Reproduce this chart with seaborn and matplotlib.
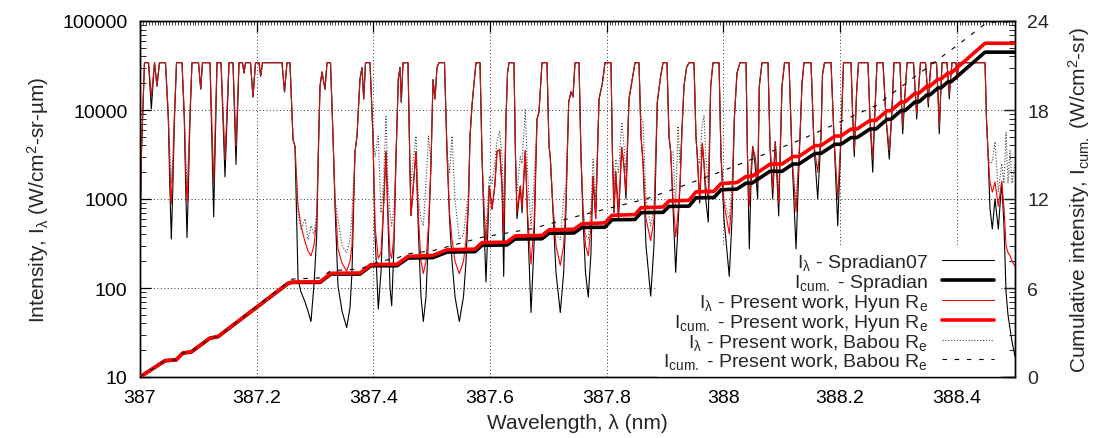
import numpy as np
import pandas as pd
import matplotlib
matplotlib.use("Agg")
import matplotlib.pyplot as plt
import seaborn as sns
from matplotlib.lines import Line2D
from matplotlib.ticker import FixedLocator, LogLocator, NullFormatter, FuncFormatter, MultipleLocator

# ---------------- data ----------------
# spectral intensity (W/cm2-sr-um) vs wavelength (nm)
wl_spec = [
    387.0000, 387.0026, 387.0077, 387.0146, 387.0194, 387.0249, 387.0291, 387.0334,
    387.0437, 387.0485, 387.0514, 387.0537, 387.0561, 387.0591, 387.0626,
    387.0720, 387.0759, 387.0785, 387.0806, 387.0828, 387.0857, 387.0891,
    387.1003, 387.1041, 387.1071, 387.1200, 387.1263, 387.1320, 387.1389, 387.1457, 387.1526, 387.1594, 387.1646, 387.1697,
    387.1757, 387.1783, 387.1809, 387.1894, 387.1937, 387.1980, 387.2040, 387.2069, 387.2100, 387.2434, 387.2477, 387.2520, 387.2571,
    387.2623, 387.2657, 387.2709, 387.2760, 387.2829, 387.2880, 387.2931, 387.2983, 387.3029, 387.3060, 387.3086, 387.3120, 387.3171, 387.3206, 387.3266,
    387.3309, 387.3343, 387.3394, 387.3463, 387.3543, 387.3600, 387.3634, 387.3686, 387.3720, 387.3771, 387.3806, 387.3835, 387.3866, 387.3943,
    387.3994, 387.4029, 387.4085, 387.4131, 387.4174, 387.4217, 387.4251, 387.4286, 387.4315, 387.4354, 387.4389, 387.4428, 387.4457, 387.4479, 387.4509, 387.4594,
    387.4629, 387.4646, 387.4689, 387.4731, 387.4774, 387.4817, 387.4857, 387.4903, 387.4946, 387.4989, 387.5023, 387.5057, 387.5091, 387.5126, 387.5220,
    387.5263, 387.5306, 387.5349, 387.5400, 387.5474, 387.5546, 387.5589, 387.5631, 387.5657, 387.5691, 387.5726, 387.5760, 387.5829,
    387.5863, 387.5897, 387.5931, 387.5966, 387.5988, 387.6034, 387.6081, 387.6120, 387.6166, 387.6206, 387.6235, 387.6274, 387.6300, 387.6326, 387.6411,
    387.6437, 387.6463, 387.6519, 387.6549, 387.6605, 387.6643, 387.6703, 387.6754, 387.6806, 387.6840, 387.6891, 387.6977,
    387.7011, 387.7034, 387.7080, 387.7131, 387.7205, 387.7263, 387.7303, 387.7349, 387.7389, 387.7423, 387.7457, 387.7526,
    387.7560, 387.7594, 387.7637, 387.7685, 387.7731, 387.7766, 387.7812, 387.7869, 387.7925, 387.7971, 387.8074,
    387.8100, 387.8126, 387.8155, 387.8203, 387.8258, 387.8297, 387.8331, 387.8383, 387.8439, 387.8486, 387.8554,
    387.8589, 387.8623, 387.8674, 387.8755, 387.8811, 387.8868, 387.8926, 387.8966, 387.9034,
    387.9069, 387.9098, 387.9137, 387.9183, 387.9223, 387.9257, 387.9291, 387.9326, 387.9369, 387.9411, 387.9497,
    387.9531, 387.9554, 387.9595, 387.9639, 387.9669, 387.9698, 387.9742, 387.9783, 387.9823, 387.9926,
    387.9960, 388.0011, 388.0102, 388.0149, 388.0188, 388.0234, 388.0286, 388.0389,
    388.0414, 388.0445, 388.0474, 388.0503, 388.0543, 388.0589, 388.0617, 388.0663, 388.0766,
    388.0800, 388.0846, 388.0891, 388.0949, 388.1006, 388.1049, 388.1126,
    388.1177, 388.1246, 388.1314, 388.1349, 388.1383, 388.1503,
    388.1554, 388.1618, 388.1674, 388.1700, 388.1734, 388.1846,
    388.1897, 388.1961, 388.2017, 388.2060, 388.2189,
    388.2214, 388.2245, 388.2283, 388.2317, 388.2480,
    388.2514, 388.2561, 388.2600, 388.2634, 388.2737,
    388.2789, 388.2845, 388.2891, 388.2926, 388.3029,
    388.3046, 388.3075, 388.3114, 388.3149, 388.3260,
    388.3286, 388.3315, 388.3354, 388.3380, 388.3466,
    388.3491, 388.3514, 388.3534, 388.3560, 388.3654,
    388.3680, 388.3702, 388.3726, 388.3749, 388.3834,
    388.3855, 388.3874, 388.3894, 388.3920, 388.3989, 388.4011, 388.4031, 388.4486,
    388.4511, 388.4542, 388.4571, 388.4611, 388.4657, 388.4714, 388.4772, 388.4811, 388.4846, 388.4880, 388.4914, 388.4949, 388.5000,
]

I_spradian = [
    250, 3400, 34000, 34000, 10300, 34000, 18600, 34000,
    34000, 7900, 1200, 355, 1200, 7900, 34000,
    34000, 7900, 1200, 370, 1200, 7900, 34000,
    34000, 17200, 34000, 34000, 630, 34000, 34000, 1770, 34000, 34000, 2450, 34000,
    34000, 26000, 34000, 34000, 14000, 34000, 34000, 24000, 34000, 34000, 16000, 34000, 34000,
    4700, 3900, 126, 90, 70, 55, 42, 110, 380, 4000, 18600, 26700, 17200, 34000, 34000,
    5000, 835, 106, 55, 36, 60, 150, 3400, 5100, 22300, 30000, 13300, 34000, 34000,
    5000, 400, 58, 150, 800, 3400, 600, 100, 63, 300, 3000, 22300, 30000, 12300, 34000, 34000,
    2000, 650, 1500, 3400, 400, 80, 42, 80, 400, 2500, 22000, 13300, 30000, 34000, 34000,
    3400, 600, 200, 80, 42, 80, 200, 925, 5000, 11100, 20000, 34000, 34000,
    3000, 500, 117, 500, 1400, 770, 1370, 3400, 3600, 1400, 135, 7900, 26000, 34000, 34000,
    3000, 600, 1400, 700, 3500, 600, 53, 300, 7900, 9500, 34000, 34000,
    4000, 2900, 700, 150, 53, 150, 800, 12300, 16000, 14000, 34000, 34000,
    3000, 600, 150, 79, 250, 1800, 600, 13300, 19600, 34000, 34000,
    3000, 700, 2050, 600, 3800, 2350, 1000, 13300, 22300, 34000, 34000,
    5000, 2600, 300, 81, 300, 12300, 24100, 34000, 34000,
    5000, 3400, 800, 150, 500, 1400, 6000, 18600, 30000, 34000, 34000,
    5000, 3000, 900, 4200, 2500, 1000, 550, 18600, 34000, 34000,
    3000, 600, 135, 600, 7900, 26000, 34000, 34000,
    3000, 275, 1500, 3900, 2500, 1000, 18600, 34000, 34000,
    4000, 1000, 4400, 645, 18600, 34000, 34000,
    3000, 275, 5000, 20000, 34000, 34000,
    4000, 1000, 5000, 25000, 34000, 34000,
    5000, 500, 5000, 34000, 34000,
    10000, 3000, 15000, 34000, 34000,
    8000, 2000, 10000, 34000, 34000,
    8000, 2800, 10000, 34000, 34000,
    15000, 5400, 15000, 34000, 34000,
    18000, 7900, 20000, 34000, 34000,
    20000, 10800, 20000, 34000, 34000,
    15000, 5400, 15000, 34000, 34000,
    22000, 13300, 22000, 34000, 34000, 22000, 34000, 34000,
    8000, 2800, 780, 460, 1000, 460, 1560, 500, 91, 50, 35, 25, 17,
]

I_hyun = [
    600, 4000, 34000, 34000, 14000, 34000, 18600, 34000,
    34000, 9000, 2000, 880, 2000, 9000, 34000,
    34000, 9000, 2000, 925, 2000, 9000, 34000,
    34000, 17200, 34000, 34000, 1400, 34000, 34000, 2800, 34000, 34000, 3900, 34000,
    34000, 26000, 34000, 34000, 14000, 34000, 34000, 24000, 34000, 34000, 16000, 34000, 34000,
    4700, 3900, 835, 500, 330, 260, 230, 300, 600, 4000, 18600, 26700, 17200, 34000, 34000,
    5000, 1000, 275, 190, 155, 200, 300, 3400, 5100, 22300, 30000, 13300, 34000, 34000,
    5000, 500, 215, 250, 800, 3400, 700, 250, 215, 400, 3000, 22300, 30000, 12300, 34000, 34000,
    2000, 650, 1500, 3400, 600, 200, 145, 200, 500, 2500, 22000, 13300, 30000, 34000, 34000,
    3400, 700, 350, 200, 145, 200, 350, 925, 5000, 11100, 20000, 34000, 34000,
    3000, 800, 300, 700, 1400, 770, 1370, 3400, 3600, 1400, 420, 7900, 26000, 34000, 34000,
    3000, 715, 1400, 800, 3500, 700, 185, 500, 7900, 9500, 34000, 34000,
    4000, 2900, 800, 300, 180, 300, 1000, 12300, 16000, 14000, 34000, 34000,
    3000, 800, 300, 230, 500, 1800, 600, 13300, 19600, 34000, 34000,
    3000, 715, 2050, 715, 3800, 2350, 1200, 13300, 22300, 34000, 34000,
    5000, 2600, 600, 340, 600, 12300, 24100, 34000, 34000,
    5000, 3400, 1000, 375, 700, 1400, 6000, 18600, 30000, 34000, 34000,
    5000, 3000, 1000, 4200, 2500, 1400, 1000, 18600, 34000, 34000,
    3000, 900, 405, 1000, 7900, 26000, 34000, 34000,
    3000, 835, 2000, 3900, 3000, 1500, 18600, 34000, 34000,
    4000, 1300, 4400, 900, 18600, 34000, 34000,
    3000, 715, 5000, 20000, 34000, 34000,
    4000, 2000, 5000, 25000, 34000, 34000,
    5000, 1000, 5000, 34000, 34000,
    10000, 3500, 15000, 34000, 34000,
    8000, 2800, 10000, 34000, 34000,
    8000, 3500, 10000, 34000, 34000,
    15000, 6500, 15000, 34000, 34000,
    18000, 9000, 20000, 34000, 34000,
    20000, 12000, 20000, 34000, 34000,
    15000, 6500, 15000, 34000, 34000,
    22000, 15000, 22000, 34000, 34000, 22000, 34000, 34000,
    8000, 2800, 1550, 1200, 1550, 830, 1560, 800, 300, 250, 230, 200, 175,
]

I_babou = [
    600, 4000, 34000, 34000, 14000, 34000, 18600, 34000,
    34000, 9000, 3000, 1500, 3000, 9000, 34000,
    34000, 9000, 3000, 1500, 3000, 9000, 34000,
    34000, 17200, 34000, 34000, 1400, 34000, 34000, 2800, 34000, 34000, 3900, 34000,
    34000, 26000, 34000, 34000, 14000, 34000, 34000, 24000, 34000, 34000, 16000, 34000, 34000,
    4700, 3900, 700, 450, 600, 350, 500, 400, 700, 4000, 18600, 26700, 17200, 34000, 34000,
    5000, 1000, 600, 300, 250, 350, 700, 3400, 5100, 22300, 30000, 13300, 34000, 34000,
    5000, 3000, 5100, 700, 1500, 8500, 1500, 700, 500, 800, 3000, 22300, 30000, 12300, 34000, 34000,
    2000, 1500, 3000, 5100, 1000, 600, 500, 1500, 5100, 2500, 22000, 13300, 30000, 34000, 34000,
    3400, 2000, 5100, 1000, 350, 400, 700, 1200, 5000, 11100, 20000, 34000, 34000,
    3000, 800, 400, 1000, 1800, 1500, 2500, 4500, 5800, 3000, 800, 7900, 26000, 34000, 34000,
    3000, 1200, 3000, 2500, 10300, 2000, 500, 1500, 7900, 9500, 34000, 34000,
    4000, 2900, 800, 400, 350, 1000, 1500, 12300, 16000, 14000, 34000, 34000,
    3000, 800, 400, 350, 800, 2800, 1000, 13300, 19600, 34000, 34000,
    3000, 1500, 2800, 2000, 7300, 4000, 2000, 13300, 22300, 34000, 34000,
    8000, 7300, 1000, 500, 800, 12300, 24100, 34000, 34000,
    5000, 3400, 3400, 800, 6600, 2500, 6000, 18600, 30000, 34000, 34000,
    5000, 3000, 2500, 7000, 8600, 3000, 1500, 18600, 34000, 34000,
    3000, 1000, 600, 1500, 7900, 26000, 34000, 34000,
    3000, 1200, 2000, 3900, 3000, 2000, 18600, 34000, 34000,
    4000, 1500, 4400, 1200, 18600, 34000, 34000,
    3000, 900, 5000, 20000, 34000, 34000,
    4000, 2000, 5000, 25000, 34000, 34000,
    5000, 1000, 5000, 34000, 34000,
    10000, 3500, 15000, 34000, 34000,
    8000, 2800, 10000, 34000, 34000,
    8000, 3500, 10000, 34000, 34000,
    15000, 6500, 15000, 34000, 34000,
    18000, 9000, 20000, 34000, 34000,
    20000, 12000, 20000, 34000, 34000,
    15000, 6500, 15000, 34000, 34000,
    22000, 15000, 22000, 34000, 34000, 22000, 34000, 34000,
    8000, 3000, 2500, 2600, 4400, 1200, 2500, 1500, 5600, 1500, 3500, 1500, 2500,
]

# cumulative intensity (W/cm2-sr), right axis
wl_cum = [
    387.0000, 387.0429, 387.0617, 387.0737, 387.0874, 387.1200, 387.1337, 387.2537, 387.2606, 387.3086,
    387.3274, 387.3771, 387.3960, 387.4406, 387.4594, 387.5023, 387.5263, 387.5743, 387.5863, 387.6291,
    387.6429, 387.6891, 387.7011, 387.7440, 387.7577, 387.7971, 387.8091, 387.8486, 387.8589, 387.8966,
    387.9069, 387.9411, 387.9531, 387.9840, 387.9960, 388.0234, 388.0389, 388.0491, 388.0800, 388.1006,
    388.1194, 388.1297, 388.1571, 388.1674, 388.1914, 388.2017, 388.2189, 388.2291, 388.2514, 388.2617,
    388.2806, 388.2874, 388.3046, 388.3114, 388.3286, 388.3354, 388.3491, 388.3543, 388.3680, 388.3731,
    388.3851, 388.3903, 388.4486, 388.5000,
]
cum_spradian = [
    0, 1.10, 1.15, 1.62, 1.68, 2.62, 2.72, 6.30, 6.38, 6.38,
    6.94, 6.94, 7.50, 7.50, 8.02, 8.05, 8.42, 8.45, 8.88, 8.90,
    9.30, 9.32, 9.69, 9.71, 10.08, 10.10, 10.60, 10.62, 11.08, 11.10,
    11.50, 11.52, 12.08, 12.10, 12.62, 12.67, 13.07, 13.07, 13.87, 13.87,
    14.36, 14.36, 15.07, 15.07, 15.69, 15.69, 16.14, 16.14, 16.72, 16.72,
    17.37, 17.37, 17.96, 17.96, 18.55, 18.55, 19.02, 19.02, 19.49, 19.49,
    19.90, 19.90, 21.90, 21.90,
]
cum_hyun = [
    0, 1.10, 1.15, 1.62, 1.68, 2.62, 2.72, 6.32, 6.40, 6.42,
    6.99, 7.01, 7.58, 7.60, 8.13, 8.20, 8.58, 8.62, 9.06, 9.09,
    9.51, 9.54, 9.92, 9.96, 10.33, 10.39, 10.90, 10.95, 11.41, 11.46,
    11.87, 11.91, 12.48, 12.52, 13.04, 13.11, 13.52, 13.53, 14.35, 14.36,
    14.86, 14.87, 15.60, 15.61, 16.24, 16.25, 16.71, 16.72, 17.30, 17.30,
    17.95, 17.95, 18.54, 18.54, 19.13, 19.13, 19.61, 19.61, 20.08, 20.08,
    20.49, 20.49, 22.50, 22.50,
]
wl_cum_babou = [
    387.0000, 387.0429, 387.0617, 387.0737, 387.0874, 387.1200, 387.1337, 387.2537, 387.2606, 387.3086,
    387.3274, 387.3771, 387.4143, 387.4371, 387.4572, 387.4766, 387.5006, 387.5863, 387.6720, 387.7526,
    387.8674, 387.9240, 387.9926, 388.1331, 388.2617, 388.3989, 388.4520, 388.5000,
]
cum_babou = [
    0, 1.10, 1.15, 1.62, 1.68, 2.62, 2.72, 6.40, 6.60, 6.68,
    7.17, 7.28, 7.84, 7.96, 8.29, 8.40, 8.50, 9.42, 10.00, 10.87,
    12.00, 12.79, 13.80, 16.00, 18.30, 22.30, 23.90, 23.95,
]

x_ticks = [387.0, 387.2, 387.4, 387.6, 387.8, 388.0, 388.2, 388.4]
x_ticklabels = ["387", "387.2", "387.4", "387.6", "387.8", "388", "388.2", "388.4"]
y_ticks = [10, 100, 1000, 10000, 100000]
y2_ticks = [0, 6, 12, 18, 24]

assert len(wl_spec) == len(I_spradian) == len(I_hyun) == len(I_babou), (len(wl_spec), len(I_spradian), len(I_hyun), len(I_babou))
assert len(wl_cum) == len(cum_spradian) == len(cum_hyun)
assert len(wl_cum_babou) == len(cum_babou)

# ---------------- styling ----------------
sns.set_theme(style="white")
plt.rcParams["font.family"] = ["Liberation Sans", "DejaVu Sans"]
plt.rcParams["mathtext.fontset"] = "custom"
plt.rcParams["mathtext.rm"] = "Liberation Sans"
plt.rcParams["mathtext.it"] = "Liberation Sans:italic"
plt.rcParams["mathtext.bf"] = "Liberation Sans:bold"
FS = 14

fig = plt.figure(figsize=(11.01, 4.39), dpi=100)
ax = fig.add_axes([140 / 1101, 1 - 378 / 439, 875 / 1101, 356 / 439])
ax2 = ax.twinx()

thin = 0.8
thick = 2.6
dotted = (0, (1, 1.6))
dashed = (0, (4, 7))

sns.lineplot(x=wl_spec, y=I_spradian, ax=ax, color="black", linewidth=thin,
             sort=False, estimator=None, legend=False, zorder=3)
sns.lineplot(x=wl_spec, y=I_hyun, ax=ax, color="#ff0000", linewidth=thin,
             sort=False, estimator=None, legend=False, zorder=3.1)
sns.lineplot(x=wl_spec, y=I_babou, ax=ax, color="#444444", linewidth=thin, linestyle=dotted,
             sort=False, estimator=None, legend=False, zorder=3.2)

sns.lineplot(x=wl_cum, y=cum_spradian, ax=ax2, color="black", linewidth=thick,
             sort=False, estimator=None, legend=False, zorder=3)
sns.lineplot(x=wl_cum, y=cum_hyun, ax=ax2, color="#ff0000", linewidth=thick,
             sort=False, estimator=None, legend=False, zorder=3.1)
sns.lineplot(x=wl_cum_babou, y=cum_babou, ax=ax2, color="black", linewidth=thin, linestyle=dashed,
             sort=False, estimator=None, legend=False, zorder=3.2)

ax.set_yscale("log")
ax.set_xlim(387.0, 388.5)
ax.set_ylim(10, 100000)
ax2.set_ylim(0, 24)
ax2.set_xlim(387.0, 388.5)

ax.xaxis.set_major_locator(FixedLocator(x_ticks))
ax.set_xticklabels(x_ticklabels)
ax.xaxis.set_minor_locator(MultipleLocator(0.005))
ax.yaxis.set_major_locator(FixedLocator(y_ticks))
ax.yaxis.set_major_formatter(FuncFormatter(lambda v, p: f"{int(round(v))}"))
ax.yaxis.set_minor_locator(LogLocator(base=10, subs=range(2, 10)))
ax.yaxis.set_minor_formatter(NullFormatter())
ax2.yaxis.set_major_locator(FixedLocator(y2_ticks))
ax2.yaxis.set_major_formatter(FuncFormatter(lambda v, p: f"{int(round(v))}"))

ax.tick_params(axis="both", which="major", direction="in", length=8, width=0.9,
               top=True, right=True, labelsize=FS, pad=9, colors="black")
ax.tick_params(axis="y", which="minor", direction="in", length=4, width=0.7, right=True)
ax.tick_params(axis="x", which="minor", direction="in", length=3, width=0.6,
               bottom=False, top=True)
ax.tick_params(axis="x", which="major", pad=9)
ax2.tick_params(axis="y", which="major", direction="in", length=8, width=0.9,
                labelsize=FS, pad=9)

ax.grid(True, which="major", axis="both", color="#333333", linestyle=(0, (1, 2.5)), linewidth=0.7)
ax.set_axisbelow(True)
ax2.grid(False)

for a in (ax, ax2):
    for s in a.spines.values():
        s.set_color("black")
        s.set_linewidth(1.0)

ax.set_xlabel("Wavelength, λ (nm)", fontsize=FS + 1, labelpad=5)
ax.set_ylabel(r"Intensity, I$_{\mathregular{λ}}$ (W/cm$^{\mathregular{2}}$-sr-µm)", fontsize=FS + 1, labelpad=8)
ax2.set_ylabel(r"Cumulative intensity, I$_{\mathregular{cum.}}$ (W/cm$^{\mathregular{2}}$-sr)",
               fontsize=FS + 1, labelpad=12, rotation=90)

handles = [
    Line2D([], [], color="black", linewidth=thin),
    Line2D([], [], color="black", linewidth=thick),
    Line2D([], [], color="#ff0000", linewidth=thin),
    Line2D([], [], color="#ff0000", linewidth=thick),
    Line2D([], [], color="#444444", linewidth=thin, linestyle=dotted),
    Line2D([], [], color="black", linewidth=thin, linestyle=dashed),
]
labels = [
    r"I$_{\mathregular{λ}}$ - Spradian07",
    r"I$_{\mathregular{cum.}}$ - Spradian",
    r"I$_{\mathregular{λ}}$ - Present work, Hyun R$_{\mathregular{e}}$",
    r"I$_{\mathregular{cum.}}$ - Present work, Hyun R$_{\mathregular{e}}$",
    r"I$_{\mathregular{λ}}$ - Present work, Babou R$_{\mathregular{e}}$",
    r"I$_{\mathregular{cum.}}$ - Present work, Babou R$_{\mathregular{e}}$",
]
leg = ax.legend(handles, labels, loc="lower right", bbox_to_anchor=(0.983, 0.0),
                bbox_transform=ax.transAxes, borderaxespad=0.0, borderpad=0.3,
                markerfirst=False, handlelength=2.7, handletextpad=0.7,
                labelspacing=-0.05, fontsize=FS, frameon=True, fancybox=False,
                framealpha=1.0, facecolor="white", edgecolor="none")
leg.set_zorder(2.5)

fig.savefig("out.png", dpi=100)
